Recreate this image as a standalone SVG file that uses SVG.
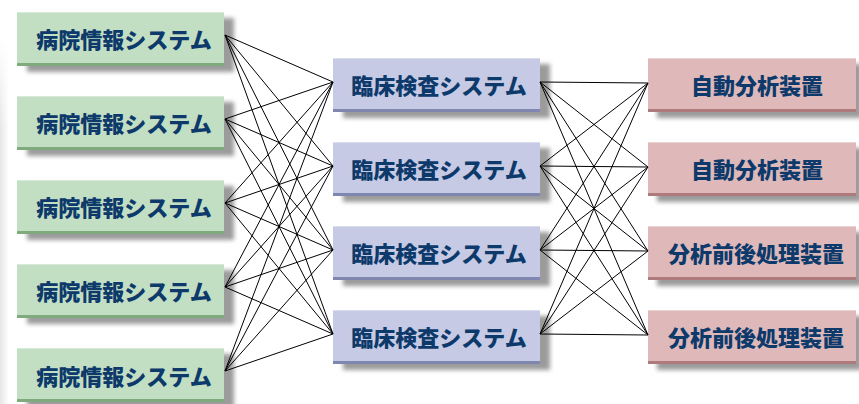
<svg xmlns="http://www.w3.org/2000/svg" width="859" height="404" viewBox="0 0 859 404">
<style>
text{font-family:"Noto Sans CJK JP","Noto Sans CJK SC",sans-serif;font-weight:900;font-size:22px;fill:#0d3a6b;text-anchor:middle;dominant-baseline:central}
.g{fill:#c3dfc3}
.gb{fill:#7eaa7e}
.b{fill:#c7cae5}
.bb{fill:#7f87b0}
.r{fill:#dfb9ba}
.rb{fill:#ae7a7c}
.sh{fill:#7a7a7a;opacity:.75;filter:url(#blur)}
.hl{fill:#fff;opacity:.35}
#connectors line{stroke:#000;stroke-width:1}
</style>
<defs>
<filter id="blur" x="-10%" y="-30%" width="120%" height="160%"><feGaussianBlur stdDeviation="2.2"/></filter>
<linearGradient id="band" x1="0" y1="0" x2="1" y2="0"><stop offset="0" stop-color="#e6e6e6"/><stop offset="1" stop-color="#ffffff"/></linearGradient>
<linearGradient id="bandv" x1="0" y1="0" x2="0" y2="1"><stop offset="0" stop-color="#fff" stop-opacity="1"/><stop offset="0.25" stop-color="#fff" stop-opacity="0"/></linearGradient>
</defs>
<rect width="859" height="404" fill="#fff"/>
<rect x="0" y="40" width="9" height="364" fill="url(#band)"/>
<rect x="0" y="40" width="9" height="364" fill="url(#bandv)"/>

<g id="left1"><rect class="sh" x="27" y="18" width="207" height="54"/><rect class="g" x="17" y="12" width="207" height="54"/><rect class="hl" x="17" y="12" width="207" height="1"/><rect class="gb" x="17" y="63" width="207" height="3"/><text x="124" y="38">病院情報システム</text></g>
<g id="left2"><rect class="sh" x="27" y="102" width="207" height="54"/><rect class="g" x="17" y="96" width="207" height="54"/><rect class="hl" x="17" y="96" width="207" height="1"/><rect class="gb" x="17" y="147" width="207" height="3"/><text x="124" y="122">病院情報システム</text></g>
<g id="left3"><rect class="sh" x="27" y="186" width="207" height="54"/><rect class="g" x="17" y="180" width="207" height="54"/><rect class="hl" x="17" y="180" width="207" height="1"/><rect class="gb" x="17" y="231" width="207" height="3"/><text x="124" y="206">病院情報システム</text></g>
<g id="left4"><rect class="sh" x="27" y="270" width="207" height="54"/><rect class="g" x="17" y="264" width="207" height="54"/><rect class="hl" x="17" y="264" width="207" height="1"/><rect class="gb" x="17" y="315" width="207" height="3"/><text x="124" y="290">病院情報システム</text></g>
<g id="left5"><rect class="sh" x="27" y="354" width="207" height="54"/><rect class="g" x="17" y="348" width="207" height="53"/><rect class="hl" x="17" y="348" width="207" height="1"/><rect class="gb" x="17" y="399" width="207" height="3"/><text x="124" y="375">病院情報システム</text></g>

<g id="mid1"><rect class="sh" x="343" y="64" width="207" height="54"/><rect class="b" x="333" y="58" width="207" height="54"/><rect class="hl" x="333" y="58" width="207" height="1"/><rect class="bb" x="333" y="109" width="207" height="3"/><text x="439" y="84">臨床検査システム</text></g>
<g id="mid2"><rect class="sh" x="343" y="148" width="207" height="54"/><rect class="b" x="333" y="142" width="207" height="54"/><rect class="hl" x="333" y="142" width="207" height="1"/><rect class="bb" x="333" y="193" width="207" height="3"/><text x="439" y="168">臨床検査システム</text></g>
<g id="mid3"><rect class="sh" x="343" y="232" width="207" height="54"/><rect class="b" x="333" y="226" width="207" height="54"/><rect class="hl" x="333" y="226" width="207" height="1"/><rect class="bb" x="333" y="277" width="207" height="3"/><text x="439" y="252">臨床検査システム</text></g>
<g id="mid4"><rect class="sh" x="343" y="316" width="207" height="54"/><rect class="b" x="333" y="310" width="207" height="54"/><rect class="hl" x="333" y="310" width="207" height="1"/><rect class="bb" x="333" y="361" width="207" height="3"/><text x="439" y="336">臨床検査システム</text></g>

<g id="right1"><rect class="sh" x="657" y="64" width="205" height="54"/><rect class="r" x="648" y="58" width="208" height="54"/><rect class="hl" x="648" y="58" width="208" height="1"/><rect class="rb" x="648" y="109" width="208" height="3"/><text x="757" y="84">自動分析装置</text></g>
<g id="right2"><rect class="sh" x="657" y="148" width="205" height="54"/><rect class="r" x="648" y="142" width="208" height="54"/><rect class="hl" x="648" y="142" width="208" height="1"/><rect class="rb" x="648" y="193" width="208" height="3"/><text x="757" y="168">自動分析装置</text></g>
<g id="right3"><rect class="sh" x="657" y="232" width="205" height="54"/><rect class="r" x="648" y="226" width="208" height="54"/><rect class="hl" x="648" y="226" width="208" height="1"/><rect class="rb" x="648" y="277" width="208" height="3"/><text x="756" y="252">分析前後処理装置</text></g>
<g id="right4"><rect class="sh" x="657" y="316" width="205" height="54"/><rect class="r" x="648" y="310" width="208" height="54"/><rect class="hl" x="648" y="310" width="208" height="1"/><rect class="rb" x="648" y="361" width="208" height="3"/><text x="756" y="336">分析前後処理装置</text></g>

<g id="connectors">
<line x1="225" y1="35" x2="333" y2="82"/><line x1="225" y1="35" x2="333" y2="166"/><line x1="225" y1="35" x2="333" y2="250"/><line x1="225" y1="35" x2="333" y2="334"/>
<line x1="225" y1="119" x2="333" y2="82"/><line x1="225" y1="119" x2="333" y2="166"/><line x1="225" y1="119" x2="333" y2="250"/><line x1="225" y1="119" x2="333" y2="334"/>
<line x1="225" y1="203" x2="333" y2="82"/><line x1="225" y1="203" x2="333" y2="166"/><line x1="225" y1="203" x2="333" y2="250"/><line x1="225" y1="203" x2="333" y2="334"/>
<line x1="225" y1="287" x2="333" y2="82"/><line x1="225" y1="287" x2="333" y2="166"/><line x1="225" y1="287" x2="333" y2="250"/><line x1="225" y1="287" x2="333" y2="334"/>
<line x1="225" y1="371" x2="333" y2="82"/><line x1="225" y1="371" x2="333" y2="166"/><line x1="225" y1="371" x2="333" y2="250"/><line x1="225" y1="371" x2="333" y2="334"/>
<line x1="540" y1="82" x2="648" y2="83"/><line x1="540" y1="82" x2="648" y2="167"/><line x1="540" y1="82" x2="648" y2="251"/><line x1="540" y1="82" x2="648" y2="335"/>
<line x1="540" y1="166" x2="648" y2="83"/><line x1="540" y1="166" x2="648" y2="167"/><line x1="540" y1="166" x2="648" y2="251"/><line x1="540" y1="166" x2="648" y2="335"/>
<line x1="540" y1="250" x2="648" y2="83"/><line x1="540" y1="250" x2="648" y2="167"/><line x1="540" y1="250" x2="648" y2="251"/><line x1="540" y1="250" x2="648" y2="335"/>
<line x1="540" y1="334" x2="648" y2="83"/><line x1="540" y1="334" x2="648" y2="167"/><line x1="540" y1="334" x2="648" y2="251"/><line x1="540" y1="334" x2="648" y2="335"/>
</g>
</svg>
